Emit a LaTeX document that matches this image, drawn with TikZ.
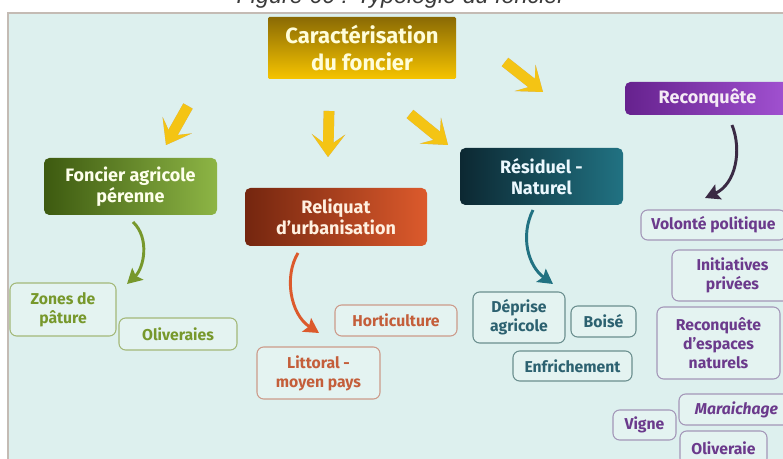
\documentclass[tikz,border=0pt]{standalone}
\usepackage{fontspec}
\setmainfont{Fira Sans}
\newfontfamily\capfont{Liberation Sans}
\usetikzlibrary{arrows.meta}
\definecolor{Bg}{HTML}{DDF0EE}
\definecolor{LeafBg}{HTML}{E4F3F1}
\definecolor{Frame}{HTML}{C4BBB4}
\definecolor{CapGray}{HTML}{3A3A3A}
\definecolor{Yel}{HTML}{F4C414}
\definecolor{Shd}{HTML}{B4ACC4}
\definecolor{GoldTop}{HTML}{8A6A04}
\definecolor{GoldBot}{HTML}{F6C400}
\definecolor{GreenL}{HTML}{3D5A10}
\definecolor{GreenR}{HTML}{8DB545}
\definecolor{GreenLn}{HTML}{A3B878}
\definecolor{GreenTx}{HTML}{77982C}
\definecolor{RedL}{HTML}{74260F}
\definecolor{RedR}{HTML}{DC5A2C}
\definecolor{RedLn}{HTML}{CC9A8A}
\definecolor{RedTx}{HTML}{C45E3A}
\definecolor{TealL}{HTML}{0C2832}
\definecolor{TealR}{HTML}{217282}
\definecolor{TealLn}{HTML}{6A8E8E}
\definecolor{TealTx}{HTML}{2C6170}
\definecolor{PurL}{HTML}{66228E}
\definecolor{PurR}{HTML}{A252D2}
\definecolor{PurLn}{HTML}{A396B8}
\definecolor{PurTx}{HTML}{6B3A8C}
\definecolor{PurArr}{HTML}{3A2A44}

\begin{document}
\begin{tikzpicture}[x=0.75pt, y=-0.75pt,
                mainbox/.style={rounded corners=4pt, inner sep=0pt, align=center,
                                font=\fontsize{13.5}{15.75}\selectfont\bfseries},
                leaf/.style={rounded corners=5pt, fill=LeafBg, line width=0.8pt,
                             inner sep=0pt, align=center,
                             font=\fontsize{11.8}{14.25}\selectfont\bfseries},
                gleaf/.style={leaf, draw=GreenLn, text=GreenTx},
                rleaf/.style={leaf, draw=RedLn, text=RedTx},
                tleaf/.style={leaf, draw=TealLn, text=TealTx},
                pleaf/.style={leaf, draw=PurLn, text=PurTx},
                yarrow/.style={line width=8pt, draw=Yel,
                               -{Stealth[length=17pt, width=25pt, inset=9pt]}},
                yshade/.style={yarrow, draw=Shd, xshift=-2.5pt, yshift=2.5pt},
                curv/.style={line width=2.2pt,
                             -{Stealth[length=11pt, width=12pt, inset=2pt]}}]
                \useasboundingbox (0,0) rectangle (783,459);
                \fill[white] (0,0) rectangle (783,459);
                \draw[draw=Frame, fill=Bg, line width=1.2pt] (8,13) rectangle (800,480);
                \node[font=\capfont\itshape\fontsize{17.5}{20}\selectfont, text=CapGray,
                      anchor=base] (cap) at (401,4) {Figure 60 : Typologie du foncier};

                % titre et categories
                \node[mainbox, rounded corners=1pt, top color=GoldTop, bottom color=GoldBot,
                      text=yellow!15, minimum width=141pt, minimum height=46.5pt,
                      font=\fontsize{16.5}{20}\selectfont\bfseries]
                      (carac) at (362,48) {Caractérisation\\du foncier};
                \node[mainbox, left color=GreenL, right color=GreenR, text=green!5!yellow!8,
                      minimum width=129.75pt, minimum height=42.75pt]
                      (fap) at (130.5,186.5) {Foncier agricole\\pérenne};
                \node[mainbox, left color=RedL, right color=RedR, text=orange!12,
                      minimum width=136.5pt, minimum height=43.5pt]
                      (rel) at (336,217) {Reliquat\\d’urbanisation};
                \node[mainbox, left color=TealL, right color=TealR, text=cyan!8,
                      minimum width=122.25pt, minimum height=42.75pt]
                      (res) at (541.5,176.5) {Résiduel -\\Naturel};
                \node[mainbox, left color=PurL, right color=PurR, text=violet!8,
                      minimum width=123.75pt, minimum height=24.75pt]
                      (rec) at (707.5,98.5) {Reconquête};

                % feuilles
                \node[gleaf, minimum width=79.5pt, minimum height=39.75pt]
                      (zon) at (63,309.5) {Zones de\\pâture};
                \node[gleaf, minimum width=88.5pt, minimum height=24pt]
                      (oliv) at (178,334) {Oliveraies};
                \node[rleaf, minimum width=91.5pt, minimum height=23.25pt]
                      (hort) at (396,320.5) {Horticulture};
                \node[rleaf, minimum width=92.25pt, minimum height=39pt]
                      (litt) at (318.5,373) {Littoral -\\moyen pays};
                \node[tleaf, minimum width=69pt, minimum height=38.25pt]
                      (depr) at (519,317.5) {Déprise\\agricole};
                \node[tleaf, minimum width=48.75pt, minimum height=23.25pt]
                      (bois) at (603.5,321.5) {Boisé};
                \node[tleaf, minimum width=89.25pt, minimum height=22.5pt]
                      (enfr) at (572.5,366) {Enfrichement};
                \node[pleaf, minimum width=108.75pt, minimum height=22.5pt]
                      (vol) at (713.5,225) {Volonté politique};
                \node[pleaf, minimum width=90.75pt, minimum height=38.25pt]
                      (init) at (732.5,275.5) {Initiatives\\privées};
                \node[pleaf, minimum width=92.25pt, minimum height=54pt]
                      (resp) at (718.5,343) {Reconquête\\d’espaces\\naturels};
                \node[pleaf, minimum width=47.25pt, minimum height=22.5pt]
                      (vign) at (644.5,425) {Vigne};
                \node[pleaf, minimum width=86.25pt, minimum height=23.25pt,
                      font=\fontsize{11.8}{14.25}\selectfont\bfseries\itshape]
                      (mara) at (736.5,409.5) {Maraichage};
                \node[pleaf, minimum width=65.25pt, minimum height=25.5pt]
                      (olive) at (723.5,448) {Oliveraie};

                % fleches jaunes
                \coordinate (y1a) at (188,106);  \coordinate (y1b) at (166,145);
                \coordinate (y2a) at (329,111);  \coordinate (y2b) at (328,157);
                \coordinate (y3a) at (410,114);  \coordinate (y3b) at (448,145);
                \coordinate (y4a) at (505,62);   \coordinate (y4b) at (543,92);
                \foreach \k in {1,2,3,4} {
                    \draw[yshade] (y\k a) -- (y\k b);
                    \draw[yarrow] (y\k a) -- (y\k b);
                }

                % fleches courbes
                \coordinate (gA) at (133,222);  \coordinate (gB) at (127,284);
                \coordinate (rA) at (298,253);  \coordinate (rB) at (319,333);
                \coordinate (tA) at (533,210);  \coordinate (tB) at (553,284);
                \coordinate (pA) at (732,125);  \coordinate (pB) at (705,198);
                \draw[curv, draw=GreenTx] (gA) .. controls (150,238) and (144,268) .. (gB);
                \draw[curv, draw=RedR] (rA) .. controls (284,276) and (290,314) .. (rB);
                \draw[curv, draw=TealR] (tA) .. controls (520,236) and (528,266) .. (tB);
                \draw[curv, draw=PurArr] (pA) .. controls (742,150) and (736,184) .. (pB);
            \end{tikzpicture}
\end{document}
